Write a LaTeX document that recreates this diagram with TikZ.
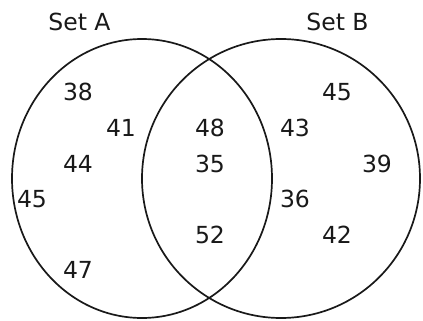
\documentclass[tikz,border=0pt]{standalone}
\usepackage{fontspec}
\setmainfont{DejaVu Sans}
\begin{document}
\begin{tikzpicture}[x=1pt,y=-1pt,
  setline/.style={line width=1.7pt,draw=black!90},
  num/.style={inner sep=0pt,font=\fontsize{23.5}{26}\selectfont,text=black!90},
  lbl/.style={inner sep=0pt,font=\fontsize{23.5}{26}\selectfont,text=black!90}]
\useasboundingbox[fill=white] (0,0) rectangle (423,321);
% sets
\draw[setline] (142,178.5) ellipse [x radius=130, y radius=139.5];
\draw[setline] (281,178.5) ellipse [x radius=139, y radius=139.5];
% labels
\node[lbl] (setA) at (79.5,21.5) {Set A};
\node[lbl] (setB) at (337.5,21.5) {Set B};
% set A only
\node[num] (a38) at (78,92) {38};
\node[num] (a41) at (121,128) {41};
\node[num] (a44) at (78,164) {44};
\node[num] (a45) at (32,199) {45};
\node[num] (a47) at (78,270) {47};
% intersection
\node[num] (i48) at (210,128) {48};
\node[num] (i35) at (210,164) {35};
\node[num] (i52) at (210,235) {52};
% set B only
\node[num] (b45) at (337,92) {45};
\node[num] (b43) at (295,128) {43};
\node[num] (b39) at (377,164) {39};
\node[num] (b36) at (295,199) {36};
\node[num] (b42) at (337,235) {42};
\end{tikzpicture}
\end{document}
